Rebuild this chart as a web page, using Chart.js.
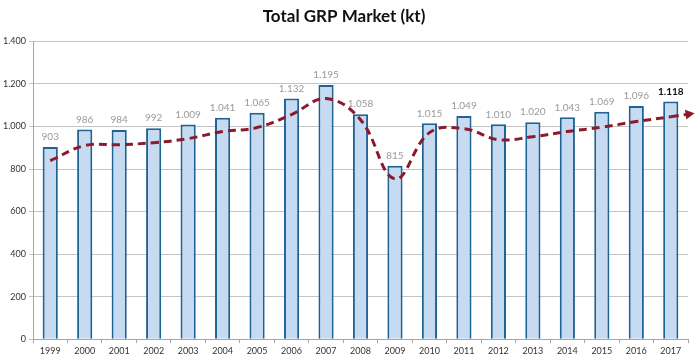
<!DOCTYPE html>
<html>
<head>
<meta charset="utf-8">
<script src="https://cdn.jsdelivr.net/npm/chart.js@4"></script>
<style>
  html, body { margin: 0; padding: 0; background: #fff; }
  #wrap { width: 700px; height: 358px; }
</style>
</head>
<body>
<div id="wrap"><canvas id="grp"></canvas></div>
<script>
var years = ['1999','2000','2001','2002','2003','2004','2005','2006','2007','2008',
             '2009','2010','2011','2012','2013','2014','2015','2016','2017'];
var market = [903, 986, 984, 992, 1009, 1041, 1065, 1132, 1195, 1058,
              815, 1015, 1049, 1010, 1020, 1043, 1069, 1096, 1118];
// trend line
var trend = [839, 910, 914, 924, 943, 976, 995, 1056, 1131, 1032,
             754, 971, 990, 938, 952, 976, 997, 1023, 1046];
var yTicks = [0, 200, 400, 600, 800, 1000, 1200, 1400];

function fmt(v) {
  return v.toString().replace(/\B(?=(\d{3})+(?!\d))/g, '.');
}

var barLabels = {
  id: 'barLabels',
  afterDatasetsDraw: function(chart) {
    var ctx = chart.ctx;
    var meta = chart.getDatasetMeta(0);
    ctx.save();
    ctx.textAlign = 'center';
    ctx.textBaseline = 'bottom';
    meta.data.forEach(function(bar, i) {
      var last = i === market.length - 1;
      ctx.font = (last ? 'bold ' : '') + '10px Lato';
      ctx.fillStyle = last ? '#111' : '#9a9a9a';
      ctx.fillText(fmt(market[i]), bar.x, bar.y - 5);
    });
    ctx.restore();
  }
};

// dashed extension + arrow head after the last trend point
var trendArrow = {
  id: 'trendArrow',
  afterDatasetsDraw: function(chart) {
    var pts = chart.getDatasetMeta(1).data;
    var a = pts[pts.length - 2], b = pts[pts.length - 1];
    var dx = b.x - a.x, dy = b.y - a.y;
    var len = Math.sqrt(dx * dx + dy * dy);
    var ux = dx / len, uy = dy / len;
    var tipX = b.x + ux * 24, tipY = b.y + uy * 24;
    var ctx = chart.ctx;
    ctx.save();
    ctx.strokeStyle = '#8b1a2c';
    ctx.lineWidth = 3;
    ctx.setLineDash([8, 5]);
    ctx.beginPath();
    ctx.moveTo(b.x, b.y);
    ctx.lineTo(tipX - ux * 6, tipY - uy * 6);
    ctx.stroke();
    ctx.setLineDash([]);
    ctx.fillStyle = '#8b1a2c';
    ctx.beginPath();
    ctx.moveTo(tipX, tipY);
    ctx.lineTo(tipX - ux * 9 - uy * 5, tipY - uy * 9 + ux * 5);
    ctx.lineTo(tipX - ux * 9 + uy * 5, tipY - uy * 9 - ux * 5);
    ctx.closePath();
    ctx.fill();
    ctx.restore();
  }
};

new Chart(document.getElementById('grp'), {
  type: 'bar',
  data: {
    labels: years,
    datasets: [{
      type: 'bar',
      data: market,
      backgroundColor: '#c6dbf2',
      borderColor: '#1f6294',
      borderWidth: 2,
      categoryPercentage: 1,
      barPercentage: 0.44,
      order: 2
    }, {
      type: 'line',
      data: trend,
      borderColor: '#8b1a2c',
      borderWidth: 3,
      borderDash: [8, 5],
      pointRadius: 0,
      tension: 0.4,
      fill: false,
      order: 1
    }]
  },
  options: {
    responsive: true,
    maintainAspectRatio: false,
    animation: false,
    layout: { padding: { left: 0, right: 12, top: 0, bottom: 0 } },
    plugins: {
      legend: { display: false },
      tooltip: { enabled: false },
      title: {
        display: true,
        text: 'Total GRP Market (kt)',
        color: '#111',
        font: { family: 'Lato', size: 17, weight: 'bold' },
        padding: { top: 6, bottom: 15 }
      }
    },
    scales: {
      x: {
        grid: {
          display: true,
          drawOnChartArea: false,
          drawTicks: true,
          tickLength: 4,
          color: '#a6a6a6'
        },
        border: { color: '#a6a6a6' },
        ticks: {
          color: '#333',
          font: { family: 'Lato', size: 9 },
          padding: 2,
          maxRotation: 0,
          autoSkip: false
        }
      },
      y: {
        min: 0,
        max: 1400,
        afterBuildTicks: function(scale) {
          scale.ticks = yTicks.map(function(v) { return { value: v }; });
        },
        afterFit: function(scale) { scale.width = 33; },
        grid: {
          color: '#c4c4c4',
          tickLength: 4
        },
        border: { color: '#a6a6a6' },
        ticks: {
          color: '#333',
          font: { family: 'Lato', size: 9 },
          padding: 3,
          callback: function(v) { return fmt(v); }
        }
      }
    }
  },
  plugins: [barLabels, trendArrow]
});
</script>
</body>
</html>
